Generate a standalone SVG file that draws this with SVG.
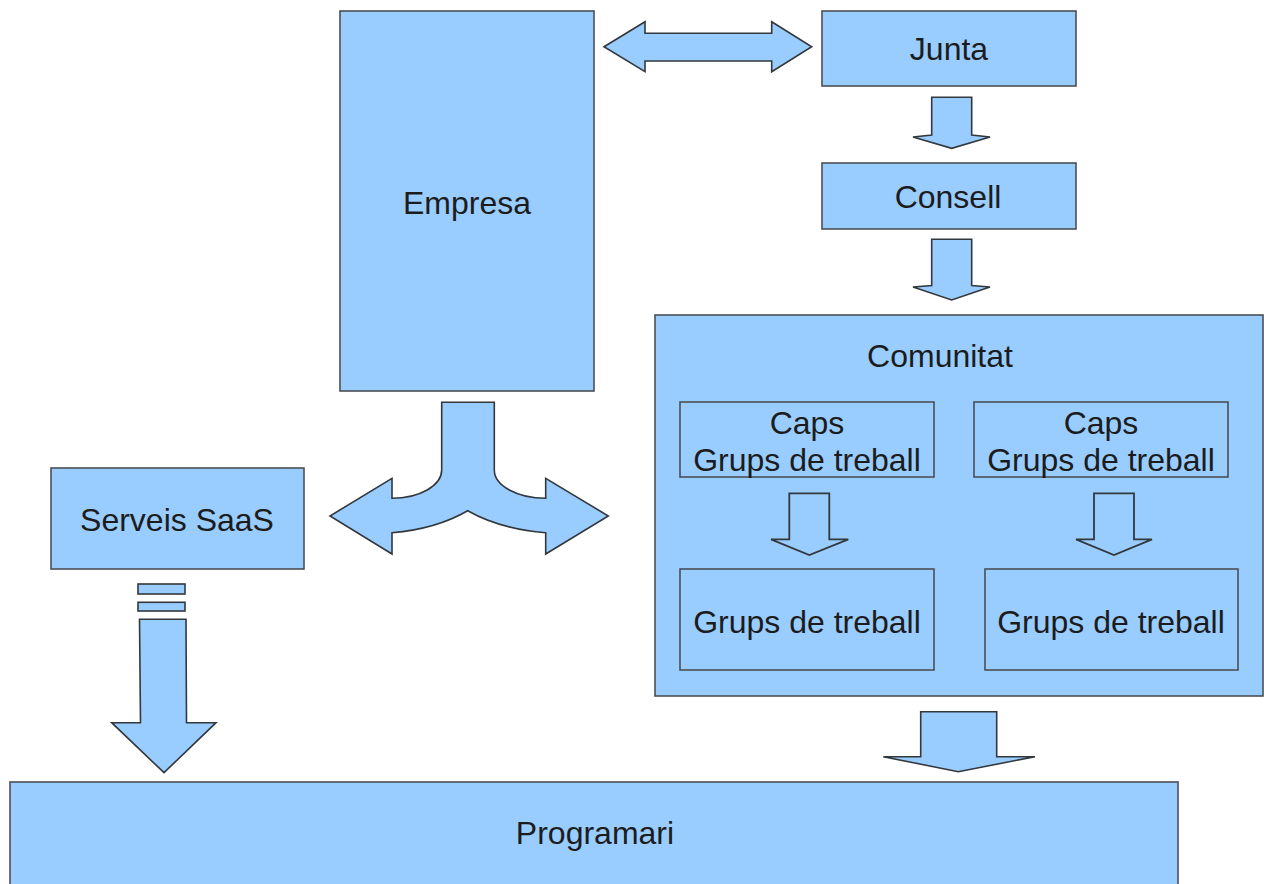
<svg xmlns="http://www.w3.org/2000/svg" width="1264" height="884" viewBox="0 0 1264 884">
  <style>
    .box { fill: #99ccff; stroke: #4a4f55; stroke-width: 1.6; }
    .arrow { fill: #99ccff; stroke: #33383d; stroke-width: 1.6; stroke-linejoin: miter; }
    .inner { fill: #99ccff; stroke: #33383d; stroke-width: 1.8; }
    .label { font-family: "Liberation Sans", Arial, sans-serif; font-size: 32px; fill: #1c1c1c; text-anchor: middle; }
  </style>
  <rect width="1264" height="884" fill="#ffffff"/>

  <g id="empresa">
    <rect class="box" x="340" y="11" width="254" height="380"/>
    <text class="label" x="467" y="214">Empresa</text>
  </g>

  <g id="junta">
    <rect class="box" x="822" y="11" width="254" height="75"/>
    <text class="label" x="949" y="60">Junta</text>
  </g>

  <g id="consell">
    <rect class="box" x="822" y="163" width="254" height="66"/>
    <text class="label" x="948" y="208">Consell</text>
  </g>

  <g id="comunitat">
    <rect class="box" x="655" y="315" width="608" height="381"/>
    <text class="label" x="940" y="367">Comunitat</text>
  </g>

  <g id="caps-1">
    <rect class="box" x="680" y="402" width="254" height="75"/>
    <text class="label" x="807" y="434">Caps</text>
    <text class="label" x="807" y="471">Grups de treball</text>
  </g>

  <g id="caps-2">
    <rect class="box" x="974" y="402" width="254" height="75"/>
    <text class="label" x="1101" y="434">Caps</text>
    <text class="label" x="1101" y="471">Grups de treball</text>
  </g>

  <g id="grups-1">
    <rect class="box" x="680" y="569" width="254" height="101"/>
    <text class="label" x="807" y="633">Grups de treball</text>
  </g>

  <g id="grups-2">
    <rect class="box" x="985" y="569" width="253" height="101"/>
    <text class="label" x="1111" y="633">Grups de treball</text>
  </g>

  <g id="serveis-saas">
    <rect class="box" x="51" y="468" width="253" height="101"/>
    <text class="label" x="177" y="531">Serveis SaaS</text>
  </g>

  <g id="programari">
    <rect class="box" x="10" y="782" width="1168" height="110"/>
    <text class="label" x="595" y="844">Programari</text>
  </g>

  <g id="connectors">
    <!-- Empresa <-> Junta -->
    <path class="arrow" d="M604,46.7 L645,21.7 L645,33.3 L771.7,33.3 L771.7,21.7 L811.7,46.7 L771.7,71.7 L771.7,61 L645,61 L645,71.7 Z"/>
    <!-- Junta -> Consell -->
    <path class="arrow" d="M931.7,97.3 L971.7,97.3 L971.7,135 L990,137 L951.7,148.3 L913,137 L931.7,135 Z"/>
    <!-- Consell -> Comunitat -->
    <path class="arrow" d="M931.7,239.3 L971.7,239.3 L971.7,285.5 L990,287 L951.7,300 L913,287 L931.7,285.5 Z"/>
    <!-- Empresa split: Serveis SaaS / Comunitat -->
    <path class="arrow" d="M441.7,402.3 L494.3,402.3 L494.3,470 A51.4,28.3 0 0 0 545.7,498.3 L545.7,478.3 L608.3,516 L545.7,554 L545.7,532.7 Q500,529 467.7,510.7 Q436,529 392,532.7 L392,554 L330,516 L392,478.3 L392,498.3 A49.7,28.3 0 0 0 441.7,470 Z"/>
    <!-- Serveis SaaS -> Programari (striped) -->
    <rect class="arrow" x="138" y="584" width="47" height="10"/>
    <rect class="arrow" x="138" y="602.3" width="47" height="8.7"/>
    <path class="arrow" d="M139.5,619.3 L186,619.3 L186.5,722.7 L216,722.7 L164,772.7 L111.7,722.7 L140.5,722.7 Z"/>
    <!-- Caps -> Grups de treball -->
    <path class="inner" d="M789.3,493.3 L829.3,493.3 L829.3,539.3 L848.3,539.3 L809.3,555 L771,539.3 L789.3,539.3 Z"/>
    <path class="inner" d="M1094,493.3 L1134,493.3 L1134,539.3 L1152,539.3 L1114,555 L1076,539.3 L1094,539.3 Z"/>
    <!-- Comunitat -> Programari -->
    <path class="arrow" d="M920.7,711.7 L996.7,711.7 L996.7,756.7 L1035,756.7 L958.3,771.7 L883.3,756.7 L920.7,756.7 Z"/>
  </g>
</svg>
